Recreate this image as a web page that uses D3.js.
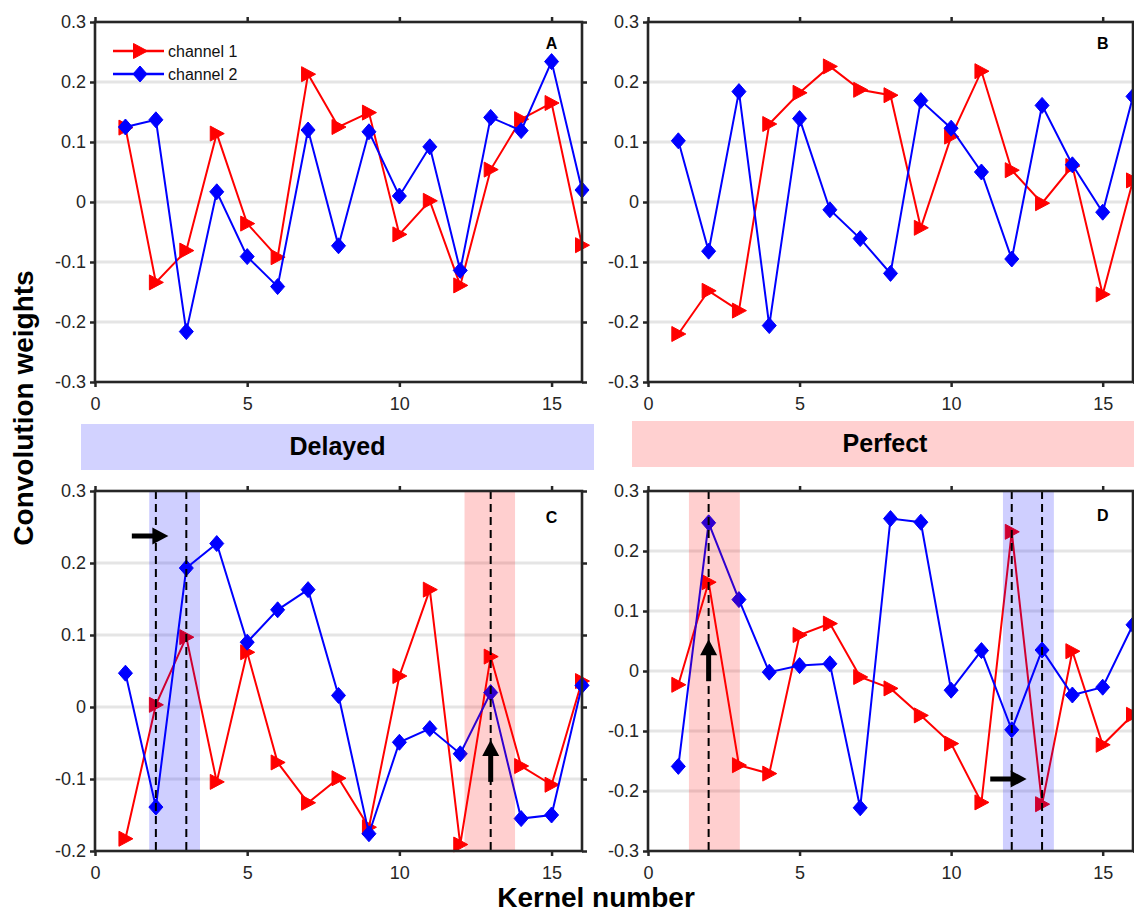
<!DOCTYPE html>
<html>
<head>
<meta charset="utf-8">
<script src="https://cdn.jsdelivr.net/npm/d3@7"></script>
<style>
  body { margin: 0; background: #fff; }
  svg { display: block; font-family: "Liberation Sans", Arial, sans-serif; }
</style>
</head>
<body>
<svg id="fig" width="1134" height="915"></svg>
<script>
// ---------------- data ----------------
const kernels = [1, 2, 3, 4, 5, 6, 7, 8, 9, 10, 11, 12, 13, 14, 15, 16];
const xTicks = [0, 5, 10, 15];
const xTickLabels = ["0", "5", "10", "15"];
const yTicksFull = [-0.3, -0.2, -0.1, 0, 0.1, 0.2, 0.3];
const yTickLabelsFull = ["-0.3", "-0.2", "-0.1", "0", "0.1", "0.2", "0.3"];
const yTicksC = [-0.2, -0.1, 0, 0.1, 0.2, 0.3];
const yTickLabelsC = ["-0.2", "-0.1", "0", "0.1", "0.2", "0.3"];
const seriesNames = ["channel 1", "channel 2"];

const A_ch1 = [0.124, -0.134, -0.081, 0.114, -0.036, -0.092, 0.213, 0.125, 0.149, -0.054, 0.002, -0.139, 0.054, 0.138, 0.165, -0.072];
const A_ch2 = [0.125, 0.137, -0.216, 0.017, -0.091, -0.141, 0.120, -0.073, 0.117, 0.010, 0.092, -0.114, 0.141, 0.119, 0.234, 0.020];
const B_ch1 = [-0.220, -0.148, -0.181, 0.130, 0.182, 0.226, 0.187, 0.178, -0.043, 0.109, 0.218, 0.053, -0.002, 0.060, -0.154, 0.036];
const B_ch2 = [0.102, -0.082, 0.184, -0.206, 0.139, -0.013, -0.061, -0.119, 0.169, 0.123, 0.050, -0.095, 0.161, 0.062, -0.017, 0.176];
const C_ch1 = [-0.183, 0.003, 0.097, -0.104, 0.076, -0.077, -0.133, -0.099, -0.167, 0.043, 0.163, -0.191, 0.070, -0.082, -0.108, 0.036];
const C_ch2 = [0.047, -0.139, 0.193, 0.227, 0.090, 0.135, 0.163, 0.016, -0.176, -0.049, -0.030, -0.065, 0.020, -0.155, -0.150, 0.030];
const D_ch1 = [-0.023, 0.148, -0.157, -0.171, 0.060, 0.079, -0.010, -0.029, -0.074, -0.121, -0.219, 0.232, -0.222, 0.033, -0.123, -0.073];
const D_ch2 = [-0.159, 0.247, 0.119, -0.002, 0.009, 0.012, -0.228, 0.254, 0.248, -0.032, 0.034, -0.098, 0.035, -0.040, -0.027, 0.077];

// highlight bands [x0, x1, colour], dashed markers, arrows [x0,y0,x1,y1]
const C_bands = [[1.78, 3.45, "blue"], [12.14, 13.8, "red"]];
const C_dashes = [2, 3, 13];
const C_arrows = [[1.21, 0.2375, 2.41, 0.2375], [13, -0.104, 13, -0.046]];
const D_bands = [[1.35, 3.03, "red"], [11.71, 13.39, "blue"]];
const D_dashes = [2, 12, 13];
const D_arrows = [[2, -0.017, 2, 0.053], [11.29, -0.18, 12.49, -0.18]];

// ---------------- drawing ----------------
const svg = d3.select("#fig");
const RED = "#ff0000", BLUE = "#0000ff", AX = "#262626";

const triPath = "M-6.5,-7.5 L-6.5,7.5 L7.5,0 Z";
const diaPath = "M0,-8 L7,0 L0,8 L-7,0 Z";

function panel(cfg) {
  const x = d3.scaleLinear().domain([0, 16]).range([cfg.left, cfg.right]);
  const y = d3.scaleLinear().domain(cfg.ydom).range([cfg.bottom, cfg.top]);
  const g = svg.append("g");

  // grid
  g.append("g").selectAll("line")
    .data(cfg.yticks.filter(v => v > cfg.ydom[0] && v < cfg.ydom[1]))
    .join("line")
    .attr("x1", cfg.left).attr("x2", cfg.right)
    .attr("y1", d => y(d)).attr("y2", d => y(d))
    .attr("stroke", "#e5e5e5").attr("stroke-width", 3);

  // series
  const series = [[cfg.ch1, RED, triPath], [cfg.ch2, BLUE, diaPath]];
  series.forEach(([vals, col, shape]) => {
    const pts = kernels.map((k, i) => [k, vals[i]]);
    g.append("path").datum(pts)
      .attr("d", d3.line().x(d => x(d[0])).y(d => y(d[1])))
      .attr("fill", "none").attr("stroke", col).attr("stroke-width", 2);
    g.append("g").selectAll("path").data(pts).join("path")
      .attr("d", shape)
      .attr("transform", d => `translate(${x(d[0])},${y(d[1])})`)
      .attr("fill", col).attr("stroke", col).attr("stroke-width", 1);
  });

  // bands
  (cfg.bands || []).forEach(([a, b, c]) => {
    g.append("rect").attr("x", x(a)).attr("width", x(b) - x(a))
      .attr("y", cfg.top).attr("height", cfg.bottom - cfg.top)
      .attr("fill", c === "blue" ? BLUE : RED).attr("fill-opacity", 0.19);
  });
  (cfg.dashes || []).forEach(v => {
    g.append("line").attr("x1", x(v)).attr("x2", x(v))
      .attr("y1", cfg.top).attr("y2", cfg.bottom)
      .attr("stroke", "#000").attr("stroke-width", 2).attr("stroke-dasharray", "8,5");
  });
  (cfg.arrows || []).forEach(([x0, y0, x1, y1]) => {
    const px0 = x(x0), py0 = y(y0), px1 = x(x1), py1 = y(y1);
    const L = Math.hypot(px1 - px0, py1 - py0);
    const ux = (px1 - px0) / L, uy = (py1 - py0) / L;
    g.append("line").attr("x1", px0).attr("y1", py0)
      .attr("x2", px1 - ux * 12).attr("y2", py1 - uy * 12)
      .attr("stroke", "#000").attr("stroke-width", 5);
    g.append("path")
      .attr("d", `M${px1},${py1} L${px1 - ux * 16 - uy * 8.5},${py1 - uy * 16 + ux * 8.5} L${px1 - ux * 16 + uy * 8.5},${py1 - uy * 16 - ux * 8.5} Z`)
      .attr("fill", "#000");
  });

  // axes
  const fmtY = d => cfg.ylabels[cfg.yticks.indexOf(d)];
  const fmtX = d => xTickLabels[xTicks.indexOf(d)];
  const axL = g.append("g").attr("transform", `translate(${cfg.left},0)`)
    .call(d3.axisLeft(y).tickValues(cfg.yticks).tickFormat(fmtY).tickSize(5).tickSizeOuter(0).tickPadding(4));
  const axB = g.append("g").attr("transform", `translate(0,${cfg.bottom})`)
    .call(d3.axisBottom(x).tickValues(xTicks).tickFormat(fmtX).tickSize(5).tickSizeOuter(0).tickPadding(10));
  const axT = g.append("g").attr("transform", `translate(0,${cfg.top})`)
    .call(d3.axisTop(x).tickValues(xTicks).tickFormat("").tickSize(5).tickSizeOuter(0));
  const axR = g.append("g").attr("transform", `translate(${cfg.right},0)`)
    .call(d3.axisRight(y).tickValues(cfg.yticks).tickFormat("").tickSize(5).tickSizeOuter(0));
  [axL, axB, axT, axR].forEach(a => {
    a.select(".domain").remove();
    a.selectAll(".tick line").attr("stroke", AX).attr("stroke-width", 2.5);
    a.selectAll("text").attr("fill", AX).style("font-size", "18px")
      .style("font-family", '"Liberation Sans", Arial, sans-serif');
  });
  g.append("rect").attr("x", cfg.left).attr("y", cfg.top)
    .attr("width", cfg.right - cfg.left).attr("height", cfg.bottom - cfg.top)
    .attr("fill", "none").attr("stroke", AX).attr("stroke-width", 2.6);

  g.append("text").attr("x", x(15)).attr("y", cfg.top + cfg.labelDy)
    .attr("text-anchor", "middle").attr("font-weight", "bold").attr("font-size", 16)
    .attr("fill", "#000").text(cfg.label);
  return { x, y, g };
}

panel({ left: 95, right: 582, top: 22, bottom: 382, ydom: [-0.3, 0.3], yticks: yTicksFull, ylabels: yTickLabelsFull, ch1: A_ch1, ch2: A_ch2, label: "A", labelDy: 27 });
panel({ left: 648, right: 1133, top: 22, bottom: 382, ydom: [-0.3, 0.3], yticks: yTicksFull, ylabels: yTickLabelsFull, ch1: B_ch1, ch2: B_ch2, label: "B", labelDy: 27 });
panel({ left: 95, right: 582, top: 491, bottom: 851, ydom: [-0.2, 0.3], yticks: yTicksC, ylabels: yTickLabelsC, ch1: C_ch1, ch2: C_ch2, label: "C", labelDy: 32, bands: C_bands, dashes: C_dashes, arrows: C_arrows });
panel({ left: 648, right: 1133, top: 491, bottom: 851, ydom: [-0.3, 0.3], yticks: yTicksFull, ylabels: yTickLabelsFull, ch1: D_ch1, ch2: D_ch2, label: "D", labelDy: 30, bands: D_bands, dashes: D_dashes, arrows: D_arrows });

// legend in A
const leg = svg.append("g");
[[seriesNames[0], RED, triPath, 51], [seriesNames[1], BLUE, diaPath, 74]].forEach(([name, col, shape, yy]) => {
  leg.append("line").attr("x1", 113).attr("x2", 164).attr("y1", yy).attr("y2", yy)
    .attr("stroke", col).attr("stroke-width", 2.5);
  leg.append("path").attr("d", shape).attr("transform", `translate(140,${yy})`)
    .attr("fill", col).attr("stroke", col);
  leg.append("text").attr("x", 168).attr("y", yy + 5.5).attr("font-size", 16)
    .attr("fill", "#111").text(name);
});

// banners
svg.append("rect").attr("x", 81).attr("y", 424).attr("width", 513).attr("height", 46).attr("fill", "#d2d2ff");
svg.append("text").attr("x", 337.5).attr("y", 455).attr("text-anchor", "middle")
  .attr("font-weight", "bold").attr("font-size", 25).attr("fill", "#000").text("Delayed");
svg.append("rect").attr("x", 632).attr("y", 421).attr("width", 502).attr("height", 46).attr("fill", "#ffd0d0");
svg.append("text").attr("x", 885).attr("y", 452).attr("text-anchor", "middle")
  .attr("font-weight", "bold").attr("font-size", 25).attr("fill", "#000").text("Perfect");

// axis titles
svg.append("text").attr("transform", "translate(33,408) rotate(-90)")
  .attr("text-anchor", "middle").attr("font-weight", "bold").attr("font-size", 28)
  .attr("fill", "#000").text("Convolution weights");
svg.append("text").attr("x", 596).attr("y", 907)
  .attr("text-anchor", "middle").attr("font-weight", "bold").attr("font-size", 28)
  .attr("fill", "#000").text("Kernel number");
</script>
</body>
</html>
